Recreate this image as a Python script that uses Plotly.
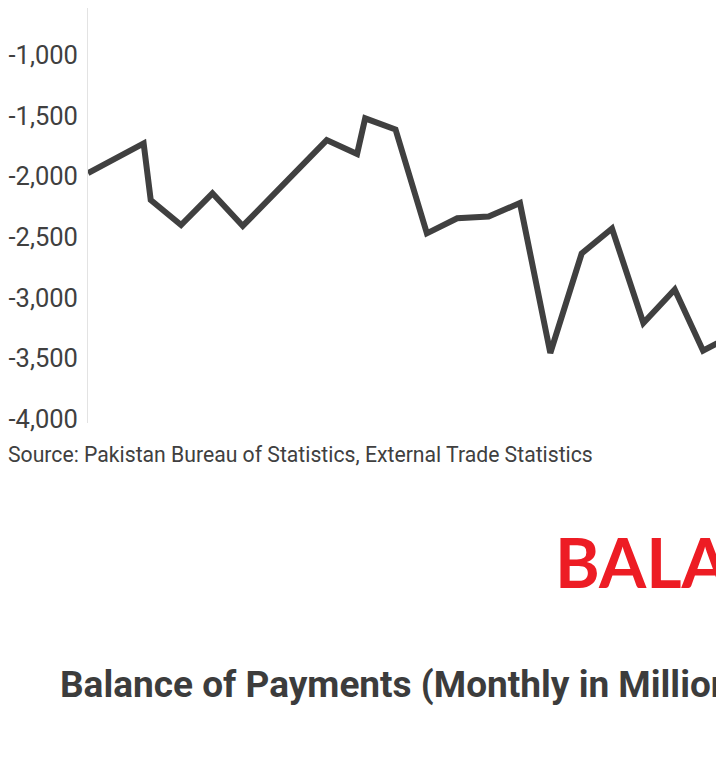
import plotly.graph_objects as go

# ---- data ----
dates = ["2020-07-01", "2020-08-25", "2020-09-01", "2020-10-01", "2020-11-01",
         "2020-12-01", "2021-02-22", "2021-03-24", "2021-04-01", "2021-05-01",
         "2021-06-01", "2021-07-01", "2021-08-01", "2021-09-01", "2021-10-01",
         "2021-11-01", "2021-12-01", "2022-01-01", "2022-02-01", "2022-03-01",
         "2022-04-01"]
balance = [-1973, -1728, -2195, -2401, -2140,
           -2409, -1701, -1816, -1522, -1614,
           -2470, -2346, -2331, -2220, -3456,
           -2636, -2430, -3209, -2933, -3437,
           -3300]
tick_values = [-4000, -3500, -3000, -2500, -2000, -1500, -1000, -500]
tick_labels = ["-4,000", "-3,500", "-3,000", "-2,500", "-2,000", "-1,500", "-1,000", "-500"]

source_text = "Source: Pakistan Bureau of Statistics, External Trade Statistics"
banner_text = "BALANCE OF PAYMENTS"
title_text = "Balance of Payments (Monthly in Million USD)"

TEXT = "#404040"
FONT = "Roboto, 'Noto Sans', sans-serif"

fig = go.Figure()
fig.add_trace(go.Scatter(
    x=dates, y=balance, mode="lines",
    line=dict(color="#404040", width=6),
    hoverinfo="skip", showlegend=False,
))

fig.update_layout(
    width=716, height=750,
    margin=dict(l=80, r=0, t=0, b=335),
    paper_bgcolor="white", plot_bgcolor="white",
    font=dict(family=FONT, color=TEXT),
    xaxis=dict(type="date", range=["2020-07-01", "2022-03-21 17:00"],
               visible=False, showgrid=False, zeroline=False),
    yaxis=dict(range=[-4033, -612.6], tickvals=tick_values, ticktext=tick_labels,
               showgrid=False, zeroline=False, showline=True,
               linecolor="#e3e3e3", linewidth=1, ticks="",
               ticklabelstandoff=4,
               tickfont=dict(family=FONT, size=25.5, color=TEXT)),
    annotations=[
        dict(text=source_text, x=0, xref="paper", y=0, yref="paper",
             xanchor="left", yanchor="middle", xshift=-82, yshift=-31,
             showarrow=False, font=dict(family=FONT, size=21.2, color=TEXT)),
        dict(text="<b>" + banner_text + "</b>", x=0, xref="paper", y=0, yref="paper",
             xanchor="left", yanchor="middle", xshift=465, yshift=-138,
             showarrow=False,
             font=dict(family="Lato, 'Noto Sans', sans-serif", size=68,
                       color="#ED1C24", weight=900)),
        dict(text="<b>" + title_text + "</b>", x=0, xref="paper", y=0, yref="paper",
             xanchor="left", yanchor="middle", xshift=-30, yshift=-261,
             showarrow=False, font=dict(family=FONT, size=37, color="#3c3c3c")),
    ],
)

fig.write_html("out.html")
